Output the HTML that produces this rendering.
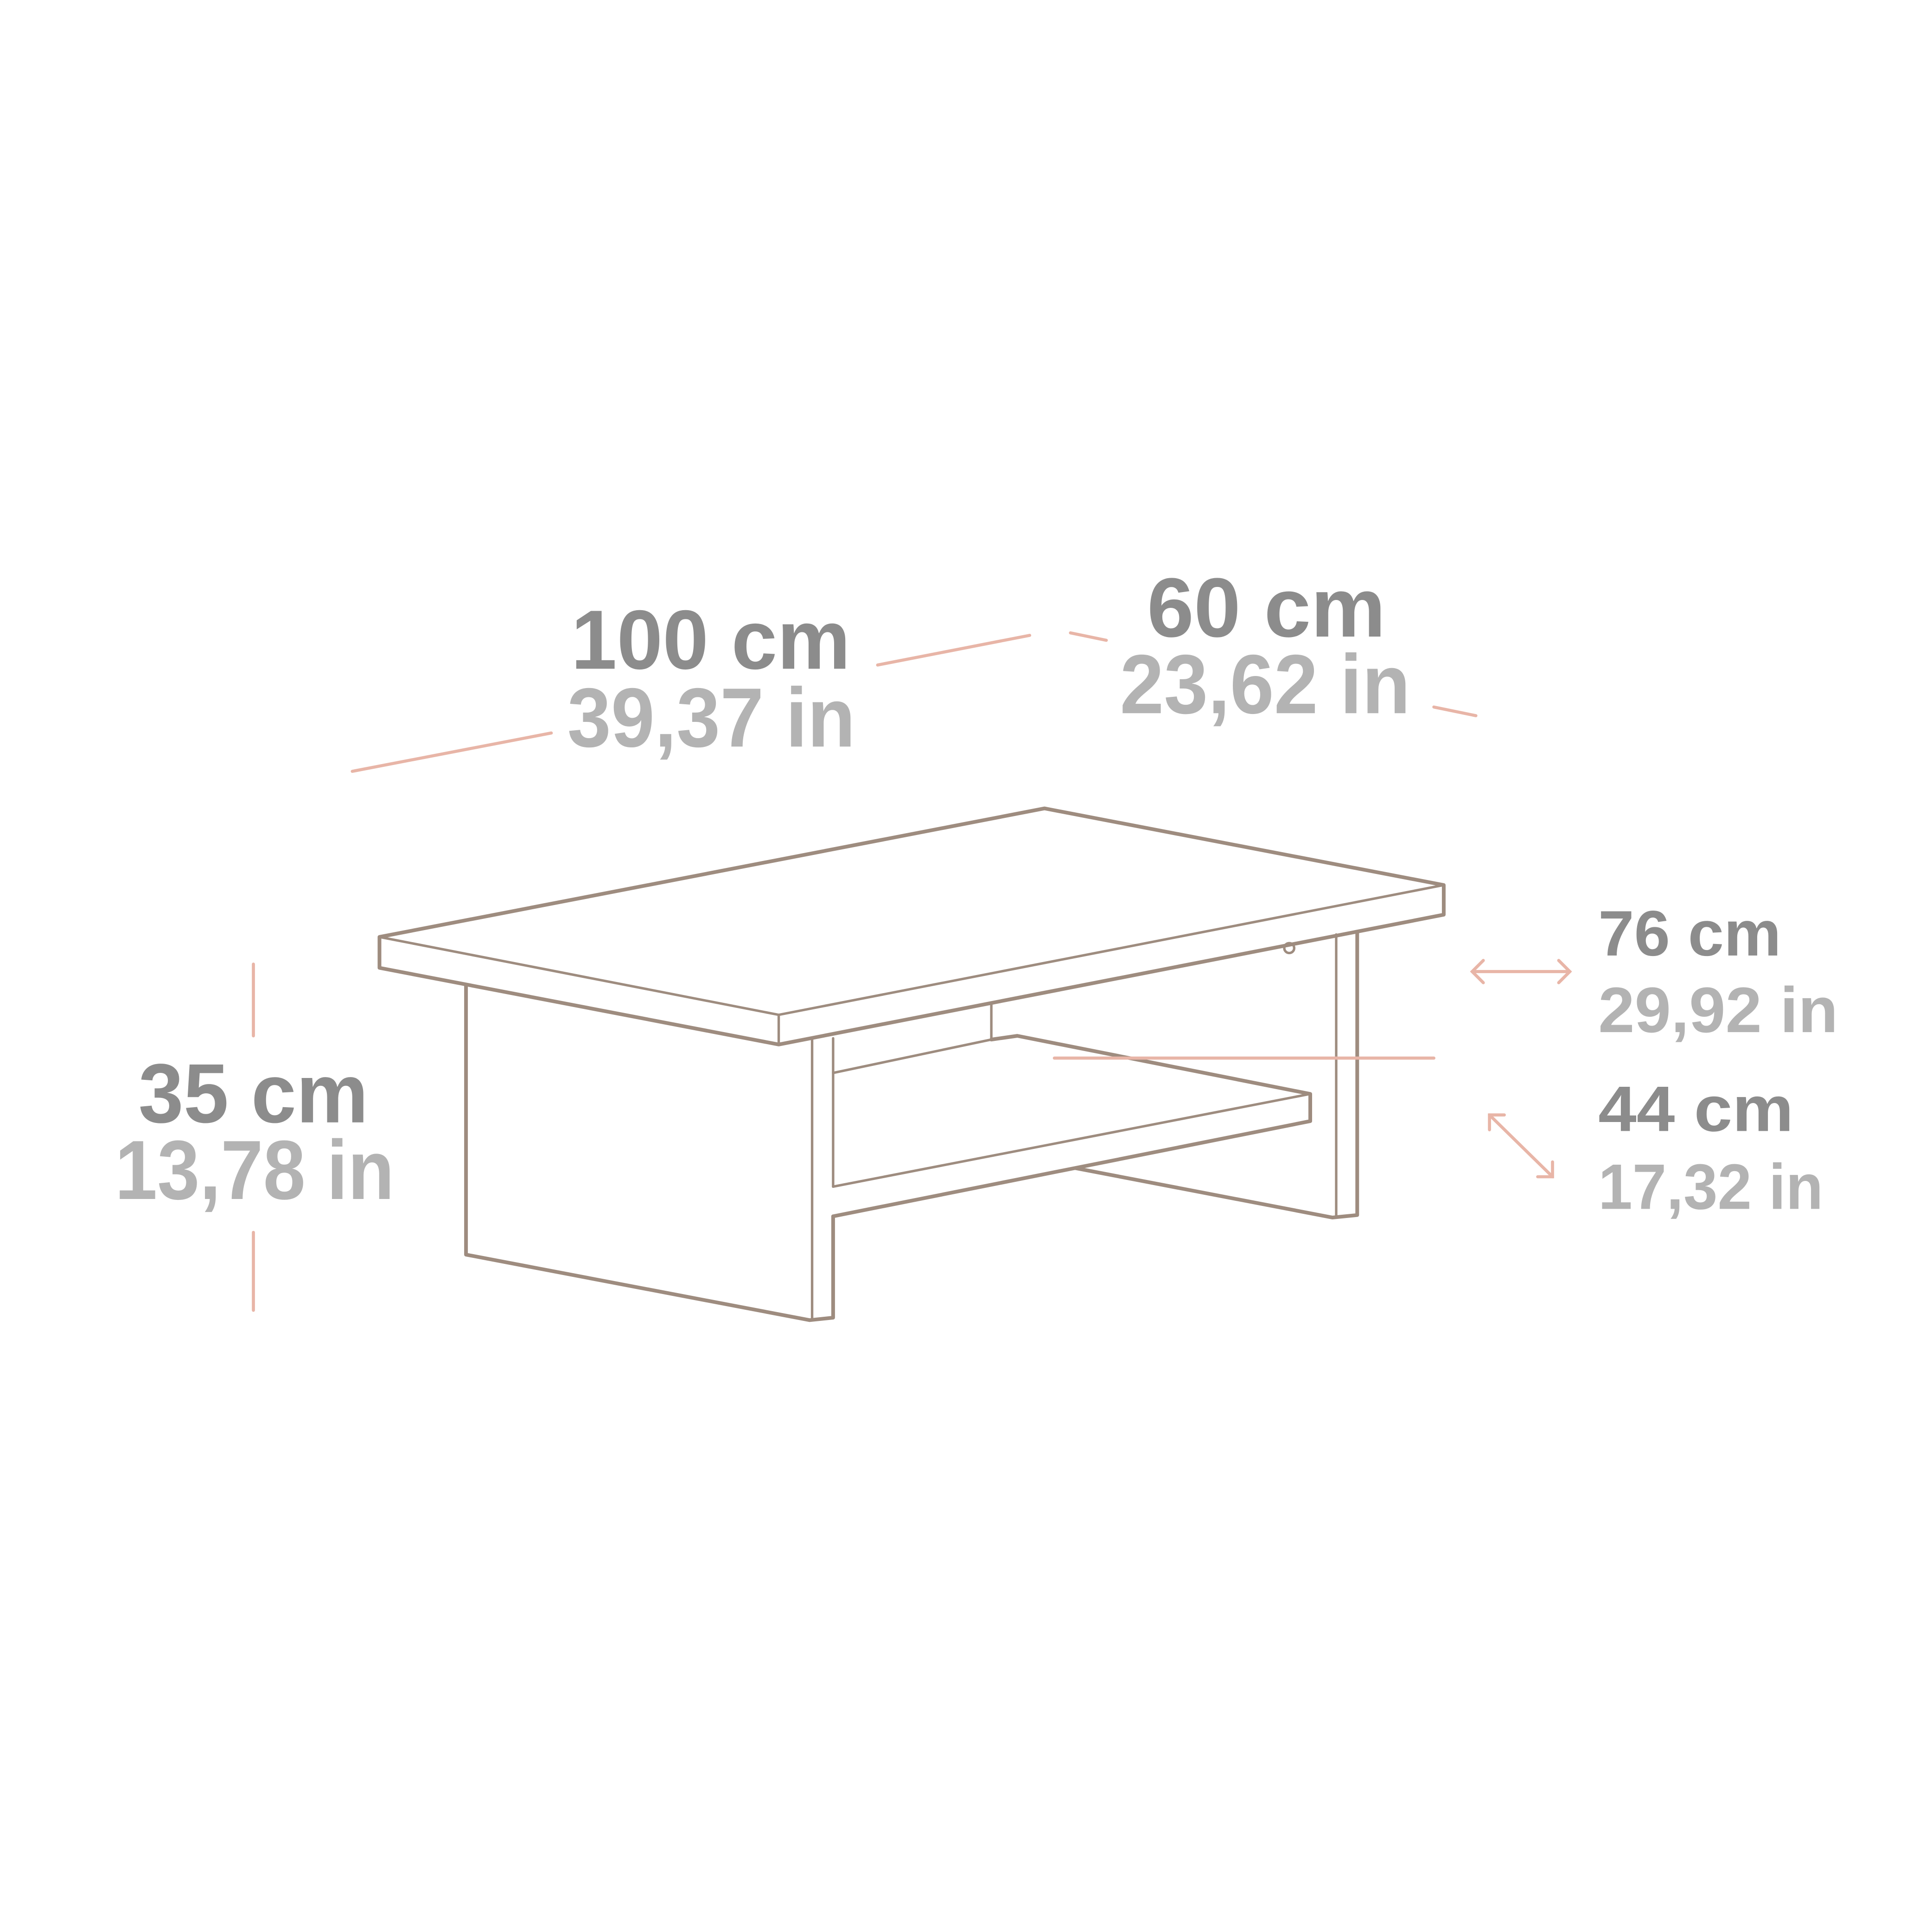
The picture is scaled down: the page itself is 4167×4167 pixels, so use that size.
<!DOCTYPE html>
<html><head><meta charset="utf-8"><style>
html,body{margin:0;padding:0;background:#fff;}
svg{display:block;}
text{font-family:"Liberation Sans",sans-serif;font-weight:bold;}
</style></head><body>
<svg width="4167" height="4167" viewBox="0 0 1563 1563" xmlns="http://www.w3.org/2000/svg">
<rect width="1563" height="1563" fill="#fff"/>
<g fill="none" stroke="#9e8c7f" stroke-width="3" stroke-linejoin="round" stroke-linecap="round">
<path d="M307,758 L845,654 L1168,716 L1168,740 L630,845 L307,783 Z"/>
<path d="M307,758 L630,821 L1168,716" stroke-width="2"/>
<path d="M630,821 L630,845" stroke-width="2"/>
<path d="M377,797 L377,1015 L655,1068 L674,1066 L674,984"/>
<path d="M657,840 L657,1068" stroke-width="2"/>
<path d="M674,840 L674,960" stroke-width="2"/>
<path d="M674,868 L802,841 L802,811" stroke-width="2"/>
<path d="M802,841 L823,838 L1060,885 L1060,907 L674,984"/>
<path d="M674,960 L1060,885" stroke-width="2"/>
<path d="M870,945 L1078,985 L1098,983 L1098,754"/>
<path d="M1081,756 L1081,985" stroke-width="2"/>
<circle cx="1043" cy="767" r="4" stroke-width="2"/>
</g>
<g stroke="#e8b5a7" stroke-width="2.5" fill="none" stroke-linecap="round">
<line x1="285" y1="624" x2="446" y2="593"/>
<line x1="710" y1="538" x2="833" y2="514"/>
<line x1="866" y1="512" x2="895" y2="518"/>
<line x1="1160" y1="572" x2="1194" y2="579"/>
<line x1="205" y1="780" x2="205" y2="838"/>
<line x1="205" y1="997" x2="205" y2="1060"/>
<line x1="853" y1="856" x2="1160" y2="856"/>
<line x1="1191" y1="786" x2="1270" y2="786"/>
<path d="M1200,777 L1191,786 L1200,795 M1261,777 L1270,786 L1261,795"/>
<line x1="1205" y1="902" x2="1256" y2="952"/>
<path d="M1205,914 L1205,902 L1217,902 M1256,940 L1256,952 L1244,952"/>
</g>
<g font-size="68">
<text x="462" y="541" fill="#8c8c8c" textLength="226" lengthAdjust="spacingAndGlyphs">100 cm</text>
<text x="459" y="604" fill="#b3b3b3" textLength="233" lengthAdjust="spacingAndGlyphs">39,37 in</text>
<text x="928" y="515" fill="#8c8c8c" textLength="193" lengthAdjust="spacingAndGlyphs">60 cm</text>
<text x="906" y="577" fill="#b3b3b3" textLength="235" lengthAdjust="spacingAndGlyphs">23,62 in</text>
<text x="112" y="908" fill="#8c8c8c" textLength="186" lengthAdjust="spacingAndGlyphs">35 cm</text>
<text x="93" y="970" fill="#b3b3b3" textLength="226" lengthAdjust="spacingAndGlyphs">13,78 in</text>
</g>
<g font-size="52">
<text x="1293" y="773" fill="#8c8c8c" textLength="148" lengthAdjust="spacingAndGlyphs">76 cm</text>
<text x="1293" y="835" fill="#b3b3b3" textLength="194" lengthAdjust="spacingAndGlyphs">29,92 in</text>
<text x="1293" y="915" fill="#8c8c8c" textLength="158" lengthAdjust="spacingAndGlyphs">44 cm</text>
<text x="1293" y="978" fill="#b3b3b3" textLength="182" lengthAdjust="spacingAndGlyphs">17,32 in</text>
</g>
</svg>
</body></html>
